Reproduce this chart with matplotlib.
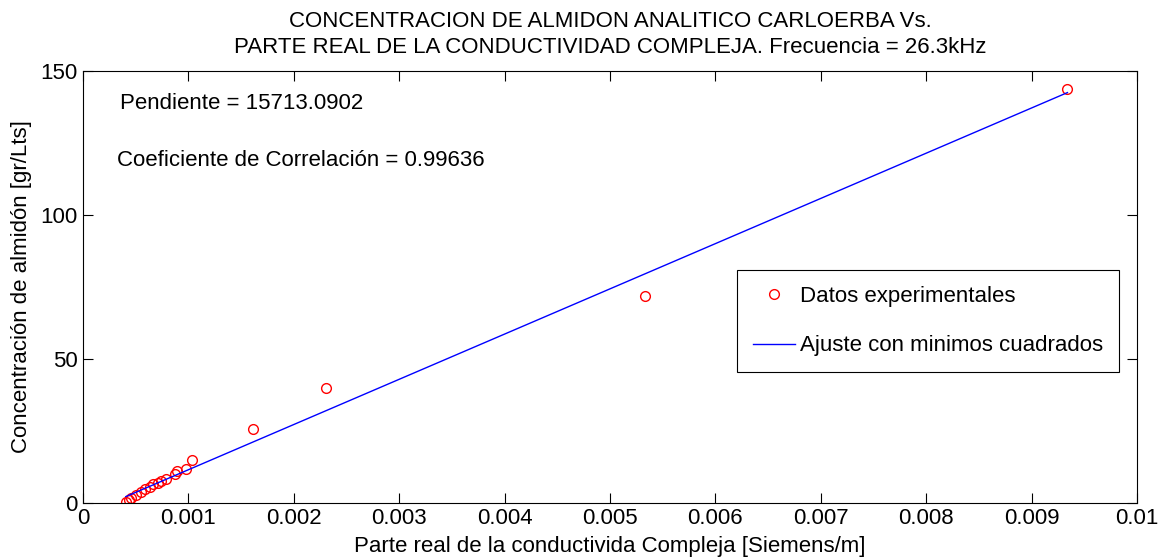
import matplotlib
matplotlib.use("Agg")
import matplotlib.pyplot as plt
import numpy as np
from matplotlib.ticker import FuncFormatter

plt.rcParams['font.family'] = ['Liberation Sans', 'DejaVu Sans']

# Data
conductividad = [0.000406, 0.000437, 0.000460, 0.000507, 0.000555, 0.000586,
                 0.000640, 0.000664, 0.000712, 0.000744, 0.000791, 0.000870,
                 0.000892, 0.000981, 0.001038, 0.00161, 0.00231, 0.00533, 0.00934]
concentracion = [0.14, 0.94, 1.74, 2.67, 3.82, 4.65,
                 5.56, 6.39, 6.74, 7.53, 8.13, 9.97,
                 11.0, 11.6, 14.8, 25.6, 39.8, 71.8, 143.9]

pendiente = 15713.0902
ordenada = -4.26
correlacion = 0.99636

xticks = [0, 0.001, 0.002, 0.003, 0.004, 0.005, 0.006, 0.007, 0.008, 0.009, 0.01]
yticks = [0, 50, 100, 150]

FS = 16

fig = plt.figure(figsize=(11.71, 5.59), dpi=100)
ax = fig.add_axes([83/1171, 1 - 502.7/559, (1137 - 83)/1171, (502.7 - 71)/559])

x = np.array(conductividad)
y = np.array(concentracion)
ax.plot(x, y, 'o', mfc='none', mec='red', ms=7, mew=1.0, label='Datos experimentales')
xf = np.array([x.min(), x.max()])
ax.plot(xf, ordenada + pendiente * xf, '-', color='blue', lw=1.0,
        label='Ajuste con minimos cuadrados')

ax.set_xlim(0, 0.01)
ax.set_ylim(0, 150)
ax.set_xticks(xticks)
ax.set_yticks(yticks)
ax.xaxis.set_major_formatter(FuncFormatter(lambda v, p: '%g' % v))
ax.tick_params(direction='in', top=True, right=True, length=7, labelsize=FS, width=0.8, pad=4)
for s in ax.spines.values():
    s.set_linewidth(0.8)

ax.set_xlabel('Parte real de la conductivida Compleja [Siemens/m]', fontsize=FS, labelpad=5)
ax.set_ylabel('Concentración de almidón [gr/Lts]', fontsize=FS, labelpad=6)
ax.set_title('CONCENTRACION DE ALMIDON ANALITICO CARLOERBA Vs.\n'
             'PARTE REAL DE LA CONDUCTIVIDAD COMPLEJA. Frecuencia = 26.3kHz',
             fontsize=FS, pad=13, linespacing=1.3)

ax.text(0.00035, 138.8, 'Pendiente = %.4f' % pendiente, fontsize=FS, va='center')
ax.text(0.00032, 119, 'Coeficiente de Correlación = %.5f' % correlacion, fontsize=FS, va='center')

leg = ax.legend(loc='upper left', bbox_to_anchor=((737 - 83)/1054, (502.7 - 270)/431.7),
                fontsize=FS, fancybox=False, edgecolor='black', framealpha=1,
                borderpad=0.7, labelspacing=1.3, handlelength=1.9, handletextpad=0.25,
                borderaxespad=0)
leg.get_frame().set_linewidth(0.8)

fig.savefig('out.png', dpi=100)
